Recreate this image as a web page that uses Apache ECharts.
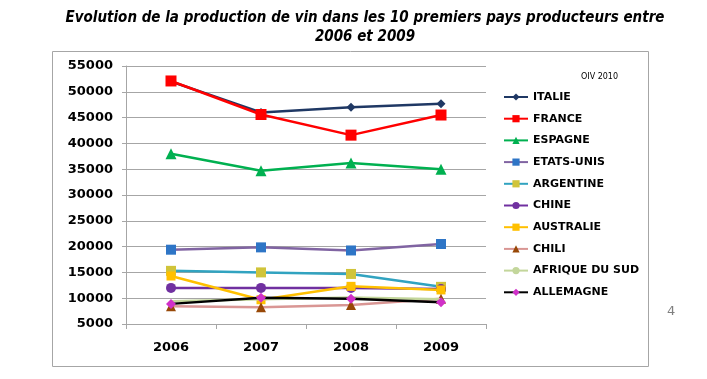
<!DOCTYPE html>
<html>
<head>
<meta charset="utf-8">
<script src="https://cdn.jsdelivr.net/npm/echarts@6/dist/echarts.min.js"></script>
<style>html,body{margin:0;padding:0;background:#fff;}#c{width:707px;height:379px;}</style>
</head>
<body>
<div id="c"></div>
<script>
var years = ['2006', '2007', '2008', '2009'];
var yTicks = [5000, 55000, 5000];
var italie = [52000, 46000, 47000, 47700];
var france = [52100, 45600, 41600, 45500];
var espagne = [38000, 34700, 36200, 35000];
var etatsUnis = [19400, 19850, 19250, 20500];
var argentine = [15300, 15000, 14700, 12200];
var chine = [12000, 12000, 12000, 11800];
var australie = [14300, 9700, 12300, 11600];
var chili = [8450, 8250, 8700, 9900];
var afriqueDuSud = [9400, 9800, 10150, 9800];
var allemagne = [8900, 10100, 9900, 9200];
var seriesNames = ['ITALIE', 'FRANCE', 'ESPAGNE', 'ETATS-UNIS', 'ARGENTINE', 'CHINE', 'AUSTRALIE', 'CHILI', 'AFRIQUE DU SUD', 'ALLEMAGNE'];

var dataList = [italie, france, espagne, etatsUnis, argentine, chine, australie, chili, afriqueDuSud, allemagne];
var styles = [
  {line: '#1F3864', mark: '#1F3864', sym: 'diamond', size: 9},
  {line: '#FF0000', mark: '#FF0000', sym: 'rect', size: 11},
  {line: '#00B050', mark: '#00B050', sym: 'triangle', size: 11},
  {line: '#8064A2', mark: '#2E75C6', sym: 'rect', size: 10},
  {line: '#31A3C0', mark: '#D0C43A', sym: 'rect', size: 10},
  {line: '#7030A0', mark: '#7030A0', sym: 'circle', size: 10},
  {line: '#FFC000', mark: '#FFC000', sym: 'rect', size: 9},
  {line: '#D99694', mark: '#984807', sym: 'triangle', size: 10},
  {line: '#C3D69B', mark: '#C3D69B', sym: 'none', size: 0},
  {line: '#000000', mark: '#D030C8', sym: 'diamond', size: 10}
];

var series = seriesNames.map(function (n, i) {
  var s = styles[i];
  return {
    name: n,
    type: 'line',
    data: dataList[i],
    symbol: s.sym,
    symbolSize: s.size,
    showSymbol: s.sym !== 'none',
    lineStyle: {color: s.line, width: 2.5},
    itemStyle: {color: s.mark, borderWidth: 0},
    emphasis: {disabled: true},
    z: 2 + i
  };
});

var chart = echarts.init(document.getElementById('c'), null, {renderer: 'canvas'});
chart.setOption({
  animation: false,
  backgroundColor: '#ffffff',
  graphic: [
    {type: 'rect', shape: {x: 52.5, y: 51.5, width: 596, height: 315}, style: {fill: 'none', stroke: '#A6A6A6', lineWidth: 1}, z: 0},
    {type: 'text', style: {text: 'Evolution de la production de vin dans les 10 premiers pays producteurs entre\n2006 et 2009', x: 365, y: 9, textAlign: 'center', font: 'italic bold 15px "DejaVu Sans Condensed"', fill: '#000', lineHeight: 19}},
    {type: 'text', style: {text: 'OIV 2010', x: 581, y: 73, font: '8px "DejaVu Sans"', fill: '#000'}},
    {type: 'text', style: {text: '4', x: 667, y: 305, font: '13px "DejaVu Sans"', fill: '#7F7F7F'}}
  ],
  grid: {left: 126, right: 221, top: 66, bottom: 55, containLabel: false},
  legend: {
    orient: 'vertical',
    left: 503,
    top: 91,
    padding: 0,
    itemWidth: 24,
    itemHeight: 9,
    itemGap: 9.7,
    data: seriesNames,
    textStyle: {fontFamily: 'DejaVu Sans', fontWeight: 'bold', fontSize: 11, color: '#000', lineHeight: 12},
    selectedMode: false
  },
  xAxis: {
    type: 'category',
    data: years,
    boundaryGap: true,
    axisLine: {lineStyle: {color: '#A6A6A6', width: 1}},
    axisTick: {show: true, length: 5, lineStyle: {color: '#A6A6A6'}},
    axisLabel: {fontFamily: 'DejaVu Sans', fontWeight: 'bold', fontSize: 13, color: '#000', margin: 17},
    splitLine: {show: false}
  },
  yAxis: {
    type: 'value',
    min: yTicks[0],
    max: yTicks[1],
    interval: yTicks[2],
    axisLine: {show: true, lineStyle: {color: '#A6A6A6', width: 1}},
    axisTick: {show: true, length: 4, lineStyle: {color: '#A6A6A6'}},
    axisLabel: {fontFamily: 'DejaVu Sans', fontWeight: 'bold', fontSize: 13, color: '#000', margin: 13, formatter: function (v) { return String(v); }},
    splitLine: {show: true, lineStyle: {color: '#A6A6A6', width: 1}}
  },
  series: series
});
</script>
</body>
</html>
